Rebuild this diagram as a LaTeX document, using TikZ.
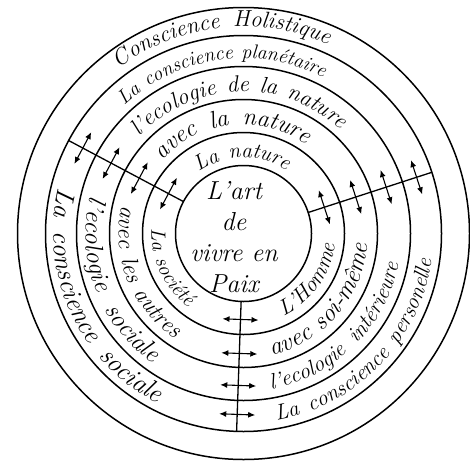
\documentclass[tikz,border=0pt]{standalone}
\usepackage{tikz}
\usetikzlibrary{arrows.meta,decorations.text}

\begin{document}
\begin{tikzpicture}[x=1pt,y=1pt,
  ring/.style={line width=1.5pt},
  spoke/.style={line width=1.3pt},
  dbl/.style={{Latex[length=7pt,width=6pt]}-{Latex[length=7pt,width=6pt]},line width=1.1pt},
  ringtext/.style 2 args={decorate,decoration={text along path,text align=fit to path stretching spaces,
    text={|\fontsize{#1}{#1}\itshape\selectfont|#2}}},
  ringmid/.style 2 args={decorate,decoration={text along path,text align=center,
    text={|\fontsize{#1}{#1}\itshape\selectfont|#2}}}]
\useasboundingbox (0,0) rectangle (470,-463);
\coordinate (O) at (243.5,-233.5);
\draw[ring] (O) circle[radius=68]; \draw[ring] (O) circle[radius=101];
\draw[ring] (O) circle[radius=134]; \draw[ring] (O) circle[radius=167];
\draw[ring] (O) circle[radius=198]; \draw[ring] (O) circle[radius=226];

\node[align=center,font=\itshape\fontsize{26}{31}\selectfont] (art) at (234,-237) {L'art\\de\\vivre en\\Paix};

\begin{scope}[shift={(O)},rotate=152]
\coordinate (ul0) at (68,0); \coordinate (ul5) at (198,0);
\draw[spoke] (ul0)--(ul5);
\draw[dbl] (85,-18)--(85,18); \draw[dbl] (118,-18)--(118,18);
\draw[dbl] (150,-18)--(150,18); \draw[dbl] (182,-18)--(182,18);
\end{scope}
\begin{scope}[shift={(O)},rotate=18]
\coordinate (r0) at (68,0); \coordinate (r5) at (198,0);
\draw[spoke] (r0)--(r5);
\draw[dbl] (85,-18)--(85,18); \draw[dbl] (118,-18)--(118,18);
\draw[dbl] (150,-18)--(150,18); \draw[dbl] (182,-18)--(182,18);
\end{scope}
\begin{scope}[shift={(O)},rotate=268]
\coordinate (b0) at (68,0); \coordinate (b5) at (198,0);
\draw[spoke] (b0)--(b5);
\draw[dbl] (86,-18)--(86,18); \draw[dbl] (120,-18)--(120,18);
\draw[dbl] (152,-18)--(152,18); \draw[dbl] (181,-18)--(181,18);
\end{scope}

\path[ringtext={23}{Conscience Holistique}] ([shift={(127:207)}]O) arc[start angle=127,end angle=66,radius=207];
\path[ringtext={20}{La conscience planétaire}] ([shift={(133:175)}]O) arc[start angle=133,end angle=63,radius=175];
\path[ringtext={23}{l'ecologie de la nature}] ([shift={(137:142)}]O) arc[start angle=137,end angle=47,radius=142];
\path[ringtext={24.5}{avec la nature}] ([shift={(138:109)}]O) arc[start angle=138,end angle=55,radius=109];
\path[ringtext={21.5}{La nature}] ([shift={(126:76)}]O) arc[start angle=126,end angle=56,radius=76];

\path[ringtext={20.5}{La société}] ([shift={(177:92)}]O) arc[start angle=177,end angle=233,radius=92];
\path[ringtext={23.5}{avec les autres}] ([shift={(167:125)}]O) arc[start angle=167,end angle=237,radius=125];
\path[ringtext={25.5}{l'ecologie sociale}] ([shift={(166:158)}]O) arc[start angle=166,end angle=235,radius=158];
\path[ringtext={26.5}{La conscience sociale}] ([shift={(166:190)}]O) arc[start angle=166,end angle=243,radius=190];

\path[ringmid={22}{L'Homme}] ([shift={(-95:92)}]O) arc[start angle=-95,end angle=24,radius=92];
\path[ringtext={25}{avec soi-même}] ([shift={(-77:125)}]O) arc[start angle=-77,end angle=-5,radius=125];
\path[ringtext={22}{l'ecologie intérieure}] ([shift={(-80:158)}]O) arc[start angle=-80,end angle=-11,radius=158];
\path[ringtext={22}{La conscience personelle}] ([shift={(-80:190)}]O) arc[start angle=-80,end angle=-8,radius=190];
\end{tikzpicture}
\end{document}
